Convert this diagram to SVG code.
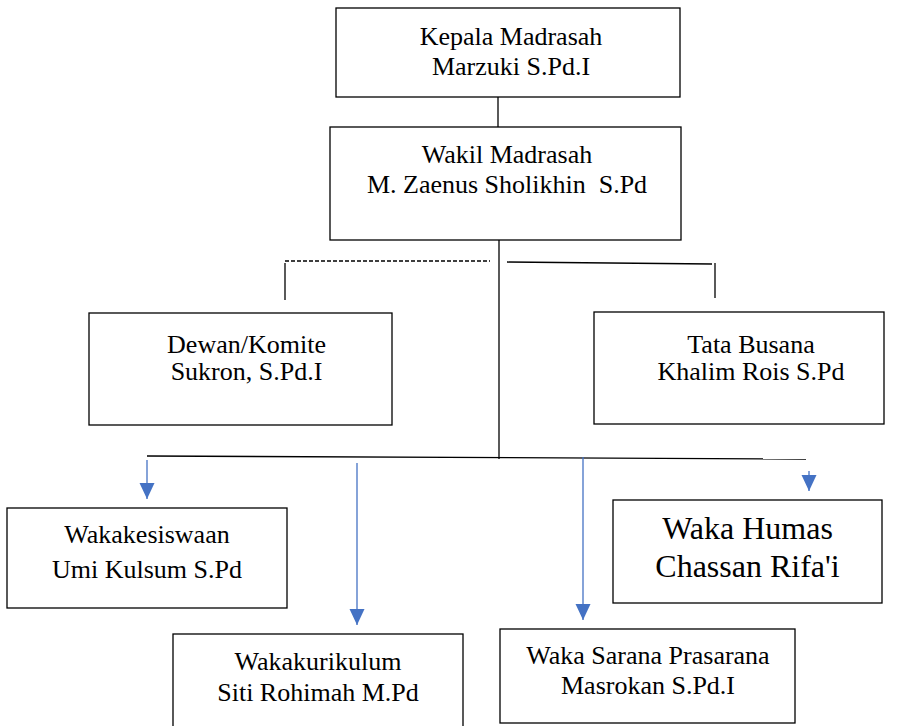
<svg xmlns="http://www.w3.org/2000/svg" width="909" height="726" viewBox="0 0 909 726">
<style>
.box{fill:#fff;stroke:#000;stroke-width:1.3}
.t{font-family:"Liberation Serif","Times New Roman",serif;font-size:26px;fill:#000;text-anchor:middle}
.big{font-size:32px}
.ln{stroke:#000;stroke-width:1.3;fill:none}
.ar{stroke:#4472C4;stroke-width:1.3;fill:none}
</style>
<defs>
<marker id="ah" markerUnits="userSpaceOnUse" markerWidth="17" markerHeight="16" viewBox="0 -8 16 16" refX="16" refY="0" orient="auto">
<path d="M0,-7.5 L16,0 L0,7.5 z" fill="#4472C4"/>
</marker>
</defs>
<rect width="909" height="726" fill="#fff"/>
<g id="connectors">
<line class="ln" x1="498" y1="97" x2="498" y2="127"/>
<line class="ln" x1="499" y1="240" x2="499" y2="459"/>
<line class="ln" x1="285" y1="261" x2="490" y2="261" stroke-dasharray="4,2"/>
<line class="ln" x1="285" y1="263" x2="285" y2="300"/>
<line class="ln" x1="507" y1="262" x2="712" y2="264"/>
<line class="ln" x1="715" y1="263" x2="715" y2="298"/>
<line class="ln" x1="147" y1="456" x2="806" y2="459"/>
<line class="ar" x1="147" y1="460" x2="147" y2="499" marker-end="url(#ah)"/>
<line class="ar" x1="357" y1="463" x2="357" y2="625" marker-end="url(#ah)"/>
<line class="ar" x1="583" y1="457" x2="583" y2="620" marker-end="url(#ah)"/>
<line class="ar" x1="809" y1="471" x2="809" y2="491" marker-end="url(#ah)"/>
</g>
<g id="kepala">
<rect class="box" x="336" y="8" width="344" height="89"/>
<text class="t" x="511" y="45">Kepala Madrasah</text>
<text class="t" x="511" y="75">Marzuki S.Pd.I</text>
</g>
<g id="wakil">
<rect class="box" x="330" y="127" width="351" height="113"/>
<text class="t" x="507" y="163">Wakil Madrasah</text>
<text class="t" x="507" y="193" xml:space="preserve">M. Zaenus Sholikhin  S.Pd</text>
</g>
<g id="dewan">
<rect class="box" x="89" y="313" width="303" height="112"/>
<text class="t" x="246.5" y="353">Dewan/Komite</text>
<text class="t" x="246.5" y="380">Sukron, S.Pd.I</text>
</g>
<g id="tata">
<rect class="box" x="594" y="312" width="290" height="112"/>
<text class="t" x="751" y="353">Tata Busana</text>
<text class="t" x="751" y="380">Khalim Rois S.Pd</text>
</g>
<g id="kesiswaan">
<rect class="box" x="7" y="508" width="280" height="100"/>
<text class="t" x="147" y="543">Wakakesiswaan</text>
<text class="t" x="147" y="578">Umi Kulsum S.Pd</text>
</g>
<g id="humas">
<rect class="box" x="613" y="500" width="269" height="103"/>
<text class="t big" x="747.5" y="539">Waka Humas</text>
<text class="t big" x="747.5" y="577">Chassan Rifa'i</text>
</g>
<g id="kurikulum">
<rect class="box" x="173" y="634" width="290" height="110"/>
<text class="t" x="318" y="670">Wakakurikulum</text>
<text class="t" x="318" y="701">Siti Rohimah M.Pd</text>
</g>
<g id="sarana">
<rect class="box" x="500" y="629" width="295" height="94"/>
<text class="t" x="648" y="664">Waka Sarana Prasarana</text>
<text class="t" x="648" y="694">Masrokan S.Pd.I</text>
</g>
</svg>
